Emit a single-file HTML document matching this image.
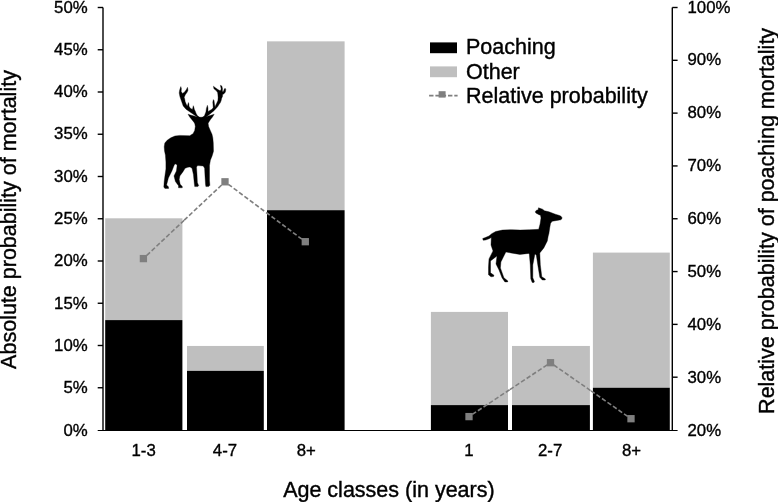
<!DOCTYPE html>
<html><head><meta charset="utf-8"><title>Mortality chart</title>
<style>
html,body{margin:0;padding:0;background:#fff;}
body{width:778px;height:502px;overflow:hidden;font-family:"Liberation Sans",sans-serif;}
svg{display:block;will-change:transform;}
</style></head>
<body>
<svg width="778" height="502" viewBox="0 0 778 502">
<rect width="778" height="502" fill="#fff"/>
<rect x="105.20" y="218.30" width="77.20" height="101.80" fill="#bfbfbf"/>
<rect x="105.20" y="320.10" width="77.20" height="110.10" fill="#000"/>
<rect x="187.00" y="345.95" width="76.80" height="24.90" fill="#bfbfbf"/>
<rect x="187.00" y="370.85" width="76.80" height="59.35" fill="#000"/>
<rect x="267.00" y="41.35" width="77.60" height="168.85" fill="#bfbfbf"/>
<rect x="267.00" y="210.20" width="77.60" height="220.00" fill="#000"/>
<rect x="430.90" y="311.90" width="77.10" height="93.20" fill="#bfbfbf"/>
<rect x="430.90" y="405.10" width="77.10" height="25.10" fill="#000"/>
<rect x="512.00" y="345.95" width="77.90" height="59.15" fill="#bfbfbf"/>
<rect x="512.00" y="405.10" width="77.90" height="25.10" fill="#000"/>
<rect x="592.90" y="252.60" width="76.90" height="135.15" fill="#bfbfbf"/>
<rect x="592.90" y="387.75" width="76.90" height="42.45" fill="#000"/>
<g stroke="#000" stroke-width="1.4" fill="none">
<line x1="103.0" y1="7.5" x2="103.0" y2="430.0"/>
<line x1="672.3" y1="7.5" x2="672.3" y2="430.0"/>
<line x1="97.7" y1="430.5" x2="677.5999999999999" y2="430.5" stroke-width="1.05"/>
<line x1="97.7" y1="387.75" x2="103.0" y2="387.75"/>
<line x1="97.7" y1="345.50" x2="103.0" y2="345.50"/>
<line x1="97.7" y1="303.25" x2="103.0" y2="303.25"/>
<line x1="97.7" y1="261.00" x2="103.0" y2="261.00"/>
<line x1="97.7" y1="218.75" x2="103.0" y2="218.75"/>
<line x1="97.7" y1="176.50" x2="103.0" y2="176.50"/>
<line x1="97.7" y1="134.25" x2="103.0" y2="134.25"/>
<line x1="97.7" y1="92.00" x2="103.0" y2="92.00"/>
<line x1="97.7" y1="49.75" x2="103.0" y2="49.75"/>
<line x1="97.7" y1="7.50" x2="103.0" y2="7.50"/>
<line x1="672.3" y1="377.19" x2="677.5999999999999" y2="377.19"/>
<line x1="672.3" y1="324.38" x2="677.5999999999999" y2="324.38"/>
<line x1="672.3" y1="271.56" x2="677.5999999999999" y2="271.56"/>
<line x1="672.3" y1="218.75" x2="677.5999999999999" y2="218.75"/>
<line x1="672.3" y1="165.94" x2="677.5999999999999" y2="165.94"/>
<line x1="672.3" y1="113.12" x2="677.5999999999999" y2="113.12"/>
<line x1="672.3" y1="60.31" x2="677.5999999999999" y2="60.31"/>
<line x1="672.3" y1="7.50" x2="677.5999999999999" y2="7.50"/>
</g>
<line x1="146.76" y1="255.44" x2="184.20" y2="220.20" stroke="#7f7f7f" stroke-width="1.6" stroke-dasharray="4.5,2.2"/>
<line x1="221.64" y1="184.96" x2="184.20" y2="220.20" stroke="#7f7f7f" stroke-width="1.6" stroke-dasharray="4.5,2.2"/>
<line x1="228.33" y1="184.28" x2="265.15" y2="211.75" stroke="#7f7f7f" stroke-width="1.6" stroke-dasharray="4.5,2.2"/>
<line x1="301.97" y1="239.22" x2="265.15" y2="211.75" stroke="#7f7f7f" stroke-width="1.6" stroke-dasharray="4.5,2.2"/>
<line x1="472.32" y1="414.41" x2="509.75" y2="389.65" stroke="#7f7f7f" stroke-width="1.6" stroke-dasharray="4.5,2.2"/>
<line x1="547.18" y1="364.89" x2="509.75" y2="389.65" stroke="#7f7f7f" stroke-width="1.6" stroke-dasharray="4.5,2.2"/>
<line x1="553.82" y1="365.01" x2="590.75" y2="390.70" stroke="#7f7f7f" stroke-width="1.6" stroke-dasharray="4.5,2.2"/>
<line x1="627.68" y1="416.39" x2="590.75" y2="390.70" stroke="#7f7f7f" stroke-width="1.6" stroke-dasharray="4.5,2.2"/>
<rect x="139.75" y="254.95" width="7.3" height="7.3" fill="#7f7f7f"/>
<rect x="221.35" y="178.15" width="7.3" height="7.3" fill="#7f7f7f"/>
<rect x="301.65" y="238.05" width="7.3" height="7.3" fill="#7f7f7f"/>
<rect x="465.35" y="412.95" width="7.3" height="7.3" fill="#7f7f7f"/>
<rect x="546.85" y="359.05" width="7.3" height="7.3" fill="#7f7f7f"/>
<rect x="627.35" y="415.05" width="7.3" height="7.3" fill="#7f7f7f"/>
<g font-family="Liberation Sans, sans-serif" font-size="16.8" fill="#000" stroke="#000" stroke-width="0.35">
<text x="87.7" y="435.70" text-anchor="end">0%</text>
<text x="87.7" y="393.38" text-anchor="end">5%</text>
<text x="87.7" y="351.06" text-anchor="end">10%</text>
<text x="87.7" y="308.74" text-anchor="end">15%</text>
<text x="87.7" y="266.42" text-anchor="end">20%</text>
<text x="87.7" y="224.10" text-anchor="end">25%</text>
<text x="87.7" y="181.78" text-anchor="end">30%</text>
<text x="87.7" y="139.46" text-anchor="end">35%</text>
<text x="87.7" y="97.14" text-anchor="end">40%</text>
<text x="87.7" y="54.82" text-anchor="end">45%</text>
<text x="87.7" y="12.50" text-anchor="end">50%</text>
<text x="687.5" y="435.70">20%</text>
<text x="687.5" y="382.80">30%</text>
<text x="687.5" y="329.90">40%</text>
<text x="687.5" y="277.00">50%</text>
<text x="687.5" y="224.10">60%</text>
<text x="687.5" y="171.20">70%</text>
<text x="687.5" y="118.30">80%</text>
<text x="687.5" y="65.40">90%</text>
<text x="687.5" y="12.50">100%</text>
<text x="143.65" y="455.8" text-anchor="middle">1-3</text>
<text x="224.95" y="455.8" text-anchor="middle">4-7</text>
<text x="306.25" y="455.8" text-anchor="middle">8+</text>
<text x="468.85" y="455.8" text-anchor="middle">1</text>
<text x="550.15" y="455.8" text-anchor="middle">2-7</text>
<text x="631.45" y="455.8" text-anchor="middle">8+</text>
</g>
<g font-family="Liberation Sans, sans-serif" font-size="21.5" fill="#000" stroke="#000" stroke-width="0.4">
<text x="388.9" y="497.4" text-anchor="middle">Age classes (in years)</text>
<text transform="translate(15.6,219.5) rotate(-90)" text-anchor="middle">Absolute probability of mortality</text>
<text transform="translate(773.5,220.9) rotate(-90)" text-anchor="middle">Relative probability of poaching mortality</text>
<text x="466" y="53.9">Poaching</text>
<text x="466" y="78.6">Other</text>
<text x="466" y="102.5">Relative probability</text>
</g>
<rect x="430" y="42.4" width="27" height="10.8" fill="#000"/>
<rect x="430" y="66.4" width="27" height="10.8" fill="#bfbfbf"/>
<line x1="429.1" y1="95.6" x2="457.6" y2="95.6" stroke="#7f7f7f" stroke-width="1.6" stroke-dasharray="4.4,1.9"/>
<rect x="438.6" y="91.2" width="7" height="6.4" fill="#7f7f7f"/>
<g fill="#000" stroke="#000" stroke-width="0.35" stroke-linejoin="round">
<path d="M197.5,116.2 L199,117.1 L201,117.3 L203,117 L204.3,116 L208.1,123.2 L208.6,126.5 L210.3,130.4 L212,134.3 L212.8,137.7 L213.3,142.9 L213.5,151.3 L212.2,155.7 L210.4,160.2 L209.5,165.6 L209.5,171.9 L209.5,180.8 L209.9,185.3 L208.6,186.6 L205.9,186.6 L205.5,184.4 L205,176.3 L204.6,168.3 L203.2,166 L197.8,165.6 L196.5,166.9 L197,174.5 L197.4,182.6 L198.7,185.7 L197.8,186.6 L194.7,186.6 L194.3,183.5 L193.4,174.5 L192,168.3 L190,166.9 L187.9,167.2 L185.1,168.3 L183,171.7 L179.9,175.9 L179.2,179.4 L180.2,184.3 L182.3,186.4 L182.3,187.8 L178.5,187.8 L178.5,185.7 L175.4,181.5 L174,175.9 L176.4,171 L177.1,165.5 L176,163.7 L174.3,164.8 L171.9,171 L168.4,178 L166.6,185 L168.4,186.8 L168.7,188.4 L164.9,188.4 L163.8,187.1 L164.2,181.5 L164.9,175.9 L165.9,169 L165.9,162 L165.4,155.1 L164.5,150.9 L164.2,146.7 L164.8,143.1 L167.2,140.2 L170.8,137.8 L174.9,136 L179.7,135.4 L189.9,135.7 L190.8,135 L193,133.8 L194.7,130.4 L195.3,126.5 L194.7,123.2 Z"/>
<path d="M188,114.2 L191.3,115.3 L195,116.2 L198,117.5 L196,123.5 L194.7,123.2 L192.5,120.4 L189.7,117 Z"/>
<path d="M214.2,114.2 L211,115.2 L207.5,116.2 L204.5,117.5 L206.5,123.5 L208.1,123.2 L210.3,119.8 L212.5,117 Z"/>
<path d="M199.6,117.6 L197.1,117.1 L194,114.7 L190,112 L186,109.2 L183.2,106 L181.8,102 L181,99.8 L179.9,96.6 L179.2,93 L179.6,90.2 L180.8,86.6 L181.4,88.4 L181.2,91.6 L182.5,93.4 L184.6,92 L186.4,89.5 L187.5,87.3 L188,90.2 L187.1,92.3 L185.3,94.8 L184.2,97.3 L184.7,99 L185.2,101.8 L186.3,104.3 L187.3,106.2 L187.8,104.5 L188.4,102.5 L188.9,104 L189,106 L189.4,107.1 L190.8,108.5 L192.4,109.6 L192.9,107.4 L193.3,105.7 L193.8,107.1 L194.4,109.6 L195.3,111.3 L196,113.2 L197,115 L198,116.4 L199.5,117.3 Z"/>
<path d="M202,117.6 L203.2,117.2 L204.3,116.2 L205.1,114 L205.9,112 L206.4,108.4 L207.4,105.3 L208,108 L208,111.5 L212,109.2 L213.2,107.6 L212.8,102 L213.4,99.6 L214,100.4 L214.7,105.2 L215.1,107 L215.6,105.4 L216.7,103.2 L217.9,100.4 L218.1,97.6 L217.9,94.8 L217.6,92.5 L216.1,90.5 L213.9,88.7 L213.4,86.2 L215.4,87.7 L217.9,89.5 L219.7,90.5 L220.8,90.5 L221.1,88.4 L220.6,86.5 L220.4,85.3 L221.8,85.9 L222.5,88.4 L222.4,90.9 L222.6,91.8 L223.4,91.6 L224.3,89.1 L225.1,88.2 L225.8,89.5 L225.4,92 L224.3,93.4 L222.5,94.8 L222.6,96.2 L221.6,98.4 L221.2,100.4 L220.4,102.6 L219,104.5 L217.6,106.8 L214,110.7 L210,113.9 L207.2,116.3 L205,118 Z"/>
</g>

<path fill="#000" stroke="#000" stroke-width="0.4" stroke-linejoin="round" d="M482.7,238.6 L485.4,237.5 L489,236 L491.7,233.7 L495.7,231.5 L502.4,230.1 L511.4,229.7 L520.4,230.1 L529.3,229.8 L535,229.5 L538.7,229.3 L540.1,223.9 L541,218 L540.5,215.2 L539,214.7 L535.8,212.9 L535.3,211.8 L536.2,210.4 L538.2,209.8 L538.5,207.8 L542.5,209.2 L544.5,210.8 L548.9,211.8 L555.3,214.2 L559.5,215.5 L561,216.3 L561.9,217.4 L561.9,218.8 L560.8,219.8 L557,220.4 L552.1,221.3 L550.5,223.5 L549.7,227.9 L548.9,233.5 L548.2,236 L547.3,241 L543.8,247.9 L539.8,252.9 L540.3,264.9 L541.8,276.8 L545.4,279 L545.2,280 L542.3,280 L539.8,277.2 L537.8,264.9 L536.3,254.9 L535.3,254.2 L534.8,254.4 L532.8,264.9 L532.8,277.8 L534.4,281.5 L534,282.4 L532.2,282.4 L530.8,278.8 L530.3,264.9 L529.3,253.9 L528.8,253.4 L519.9,254.4 L510.9,252.9 L505.9,251.9 L500.9,261.9 L500.4,267.9 L503.9,277.8 L507.9,281 L507.6,281.9 L504.9,281.9 L502,277.8 L499,269.9 L496,263.9 L497,255.9 L490.5,260.9 L490.5,272.8 L494,275.3 L493.5,276.5 L491,276.8 L488.5,274.8 L488.5,266.9 L489,258.9 L491,254.9 L493,250.9 L491,245 L491.3,237.5 L489,238.8 L485.5,240 L483.2,240.2 Z"/>

</svg>
</body></html>
